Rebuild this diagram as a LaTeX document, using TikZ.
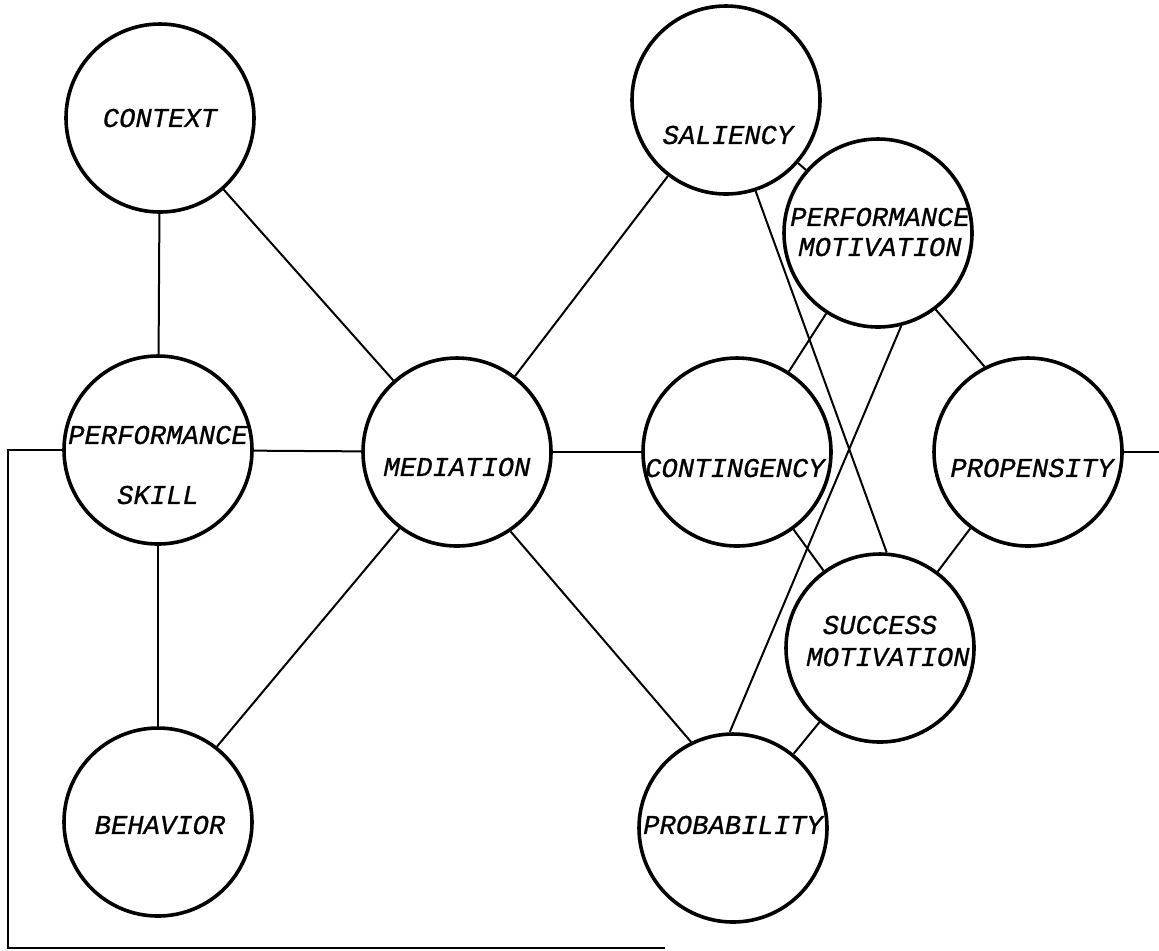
\documentclass[tikz,border=0pt]{standalone}
\usepackage{fontspec}
\newfontfamily\labelfont[FakeBold=0.8]{Liberation Mono}
\begin{document}
\begin{tikzpicture}[x=0.5pt,y=-0.5pt,
  concept/.style={circle,draw,line width=1.8pt,minimum size=94pt,inner sep=0pt},
  link/.style={line width=1pt},
  lbl/.style={font=\labelfont\itshape\fontsize{13.6}{15}\selectfont,inner sep=0pt}]
\useasboundingbox (0,0) rectangle (1159,950);

% concept circles
\node[concept] (context)  at (160,118) {};
\node[concept] (skill)    at (158,450) {};
\node[concept] (behavior) at (158,822) {};
\node[concept] (med)      at (457,452) {};
\node[concept] (sal)      at (726,100) {};
\node[concept] (pm)       at (878,233) {};
\node[concept] (cont)     at (737,452) {};
\node[concept] (prop)     at (1028,452) {};
\node[concept] (sm)       at (880,648) {};
\node[concept] (prob)     at (733,828) {};

% labels
\node[lbl] (contextT) at (160,118) {CONTEXT};
\node[lbl] (skillT1)  at (158,435) {PERFORMANCE};
\node[lbl] (skillT2)  at (158,495) {SKILL};
\node[lbl] (behT)     at (160,825) {BEHAVIOR};
\node[lbl] (medT)     at (457,467) {MEDIATION};
\node[lbl] (salT)     at (728,135) {SALIENCY};
\node[lbl] (pmT1)     at (880,217) {PERFORMANCE};
\node[lbl] (pmT2)     at (880,247) {MOTIVATION};
\node[lbl] (contT)    at (735,468) {CONTINGENCY};
\node[lbl] (propT)    at (1032,468) {PROPENSITY};
\node[lbl] (smT1)     at (880,625) {SUCCESS};
\node[lbl] (smT2)     at (888,657) {MOTIVATION};
\node[lbl] (probT)    at (733,825) {PROBABILITY};

% connections
\draw[link] (context) -- (skill);
\draw[link] (context) -- (med);
\draw[link] (skill) -- (med);
\draw[link] (skill) -- (behavior);
\draw[link] (behavior.52) -- (med.-127);
\draw[link] (med) -- (sal);
\draw[link] (med) -- (cont);
\draw[link] (med.-56) -- (prob.116);
\draw[link] (sal) -- (pm);
\draw[link] (sal.-72) -- (sm.86);
\draw[link] (pm) -- (cont);
\draw[link] (pm.-76) -- (prob.92);
\draw[link] (pm.-53) -- (prop.117);
\draw[link] (cont) -- (sm);
\draw[link] (prop) -- (sm);
\draw[link] (sm) -- (prob);

% feedback loop
\coordinate (loopR) at (1159,452);
\coordinate (loopA) at (8,450);
\coordinate (loopB) at (8,948);
\coordinate (loopC) at (665,948);
\draw[link] (prop.east) -- (loopR);
\draw[link] (skill.west) -- (loopA) -- (loopB) -- (loopC);
\end{tikzpicture}
\end{document}
